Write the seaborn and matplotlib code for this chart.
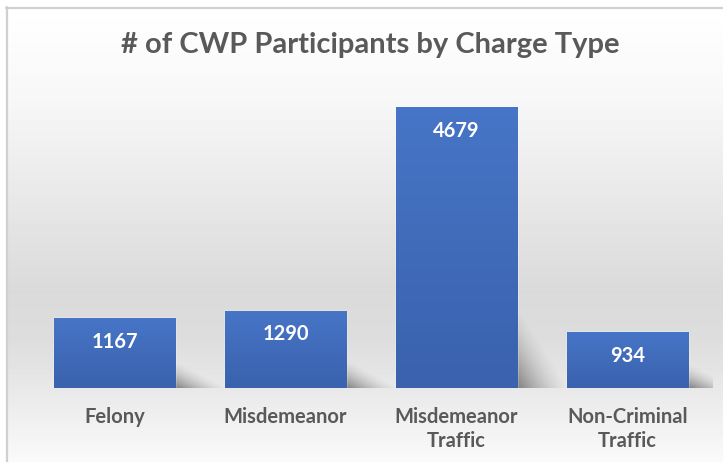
import numpy as np
import matplotlib
matplotlib.use("Agg")
import matplotlib.pyplot as plt
import seaborn as sns
from matplotlib.colors import LinearSegmentedColormap

categories = ["Felony", "Misdemeanor", "Misdemeanor\nTraffic", "Non-Criminal\nTraffic"]
participants = [1167, 1290, 4679, 934]
title_text = "# of CWP Participants by Charge Type"

sns.set_theme(style="white")
plt.rcParams['font.family'] = ['Lato', 'DejaVu Sans']

W, H = 723, 462
fig = plt.figure(figsize=(W / 100, H / 100), dpi=100)
fig.patch.set_facecolor("white")

# background gradient + frame
bg = fig.add_axes([0, 0, 1, 1], zorder=0)
bg.set_axis_off()
rows = np.arange(H)
vals = np.interp(rows, [7, 100, 290, 340, 462], [255, 247, 218, 221, 250])
img = np.repeat(vals[:, None], W, axis=1)
img[:7, :] = 255
img[:, :6] = 255
bg.imshow(img, cmap="gray", vmin=0, vmax=255, extent=[0, W, H, 0], aspect="auto",
          interpolation="bilinear")
bg.plot([6.5, 6.5], [7, H], color="#d0d0d0", lw=1.6)
bg.plot([6, W], [7.5, 7.5], color="#d0d0d0", lw=1.6)
bg.set_xlim(0, W)
bg.set_ylim(H, 0)

# main axes
left, right = 29 / W, 713 / W
bottom = (H - 388) / H
top = (H - 87.7) / H
ax = fig.add_axes([left, bottom, right - left, top - bottom], zorder=1)
ax.set_facecolor("none")

sns.barplot(x=categories, y=participants, ax=ax, width=0.71, color="#4472c4",
            saturation=1, zorder=3)
ax.set_xlim(-0.5, 3.5)
ax.set_ylim(0, 5000)

bar_cmap = LinearSegmentedColormap.from_list("bar", ["#3a62ad", "#4775c7"])
grad = np.linspace(0, 1, 256)[:, None]
shadow_rgba = np.zeros((64, 64, 4))
u = np.linspace(0, 1, 64)[None, :]
v = np.linspace(0, 1, 64)[:, None]
alpha = np.clip(1 - u - v, 0, 1) ** 1.5 * 0.45
shadow_rgba[..., 3] = alpha[::-1, :]

for p in ax.patches:
    x0, w, h = p.get_x(), p.get_width(), p.get_height()
    im = ax.imshow(grad, cmap=bar_cmap, extent=[x0, x0 + w, 0, h], origin="lower",
                   aspect="auto", zorder=4)
    im.set_clip_path(p)
    ax.imshow(shadow_rgba, extent=[x0 + w, x0 + w + 0.32, 0, h * 0.27 + 150],
              origin="upper", aspect="auto", zorder=2)
ax.set_xlim(-0.5, 3.5)
ax.set_ylim(0, 5000)

for i, v_ in enumerate(participants):
    ax.annotate(str(v_), (i, v_), xytext=(0, -17), textcoords="offset points",
                ha="center", va="center", color="white", fontsize=14.5,
                fontweight="bold", zorder=6)

sns.despine(ax=ax, left=True, bottom=True)
ax.set_yticks([])
ax.set_xlabel("")
ax.set_ylabel("")
ax.tick_params(axis="x", length=0, pad=14)
for lab in ax.get_xticklabels():
    lab.set_fontsize(14.5)
    lab.set_fontweight("bold")
    lab.set_color("#595959")
    lab.set_linespacing(1.2)

fig.text(370 / W, 1 - 45 / H, title_text, ha="center", va="center", fontsize=21,
         fontweight="bold", color="#595959")

fig.savefig("out.png", dpi=100)
